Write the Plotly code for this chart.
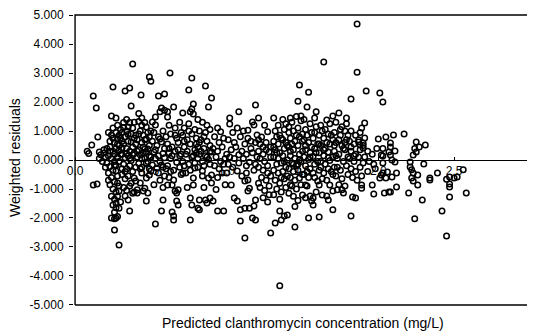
import plotly.graph_objects as go

# (predicted concentration mg/L, weighted residual)
seg_a = [
    (0.08, 0.30), (0.09, 0.22),
    (0.11, 0.52), (0.12, 2.21), (0.14, 1.79), (0.15, 0.79), (0.12, -0.86), (0.145, -0.83),
    (0.16, 0.28), (0.17, 0.18), (0.19, 0.24), (0.20, 0.10), (0.18, -0.05), (0.19, 0.35),
    (0.20, -0.25), (0.16, 0.05),
    (0.24, 1.52), (0.25, 2.52), (0.24, 0.86), (0.23, 0.45), (0.25, 0.30), (0.26, 0.60),
    (0.27, 0.95), (0.28, 0.72), (0.29, 0.50), (0.22, 0.15), (0.24, 0.05), (0.26, 0.20),
    (0.28, 0.10), (0.29, 0.32), (0.21, -0.10), (0.23, -0.22), (0.25, -0.35), (0.27, -0.18),
    (0.29, -0.05), (0.22, -0.45), (0.24, -0.60), (0.26, -0.75), (0.28, -0.55), (0.23, -0.85),
    (0.25, -1.00), (0.27, -1.10), (0.29, -0.90), (0.24, -1.25), (0.26, -1.35), (0.28, -1.25),
    (0.25, -1.55), (0.27, -1.65), (0.26, -1.80), (0.24, -2.00), (0.26, -2.03), (0.27, -2.00),
    (0.26, -2.41), (0.29, -2.93), (0.30, -1.45), (0.28, -1.95), (0.22, -0.70), (0.21, 0.40),
    (0.23, 0.65), (0.27, 0.40), (0.29, 0.85), (0.30, 1.05), (0.28, 1.20), (0.25, 1.10),
    (0.26, -0.17), (0.27, -0.38), (0.28, -0.79), (0.29, -1.07), (0.27, -1.48), (0.29, -1.66),
    (0.38, 3.31), (0.33, 2.38), (0.36, 2.48), (0.37, 1.86), (0.32, 1.29), (0.36, 1.29),
    (0.35, 1.14), (0.31, 0.95), (0.33, 0.80), (0.35, 0.65), (0.37, 0.90), (0.39, 0.75),
    (0.32, 0.55), (0.34, 0.40), (0.36, 0.30), (0.38, 0.45), (0.31, 0.20), (0.33, 0.08),
    (0.35, 0.15), (0.37, -0.02), (0.39, 0.22), (0.32, -0.15), (0.34, -0.30), (0.36, -0.20),
    (0.38, -0.40), (0.31, -0.50), (0.33, -0.65), (0.35, -0.55), (0.37, -0.80), (0.39, -0.62),
    (0.32, -0.95), (0.34, -1.05), (0.36, -0.90), (0.38, -1.15), (0.36, -1.76), (0.33, -1.24),
    (0.35, -1.38), (0.39, -1.10), (0.31, -0.30), (0.40, 0.55), (0.40, -0.25), (0.34, 1.00),
    (0.38, 1.10), (0.31, 0.65),
    (0.49, 2.86), (0.50, 2.72), (0.435, 2.24), (0.42, 1.33), (0.44, 1.45), (0.46, 1.29),
    (0.47, 1.14), (0.43, 1.00), (0.45, 0.85), (0.48, 0.95), (0.41, 0.70), (0.44, 0.60),
    (0.47, 0.72), (0.49, 0.50), (0.42, 0.35), (0.45, 0.25), (0.48, 0.38), (0.41, 0.10),
    (0.43, 0.18), (0.46, 0.05), (0.49, 0.15), (0.42, -0.12), (0.44, -0.25), (0.47, -0.10),
    (0.49, -0.30), (0.41, -1.14), (0.41, -1.03), (0.45, -1.07), (0.46, -0.97), (0.47, -1.41),
    (0.48, -1.14), (0.40, -0.72), (0.43, -0.79), (0.47, -0.62), (0.49, -0.52), (0.50, -0.38),
    (0.44, -0.45), (0.50, 1.00),
    (0.22, 0.95), (0.23, 0.30), (0.25, 0.75), (0.26, -0.05), (0.28, 0.55), (0.30, 0.20),
    (0.31, 0.42), (0.32, 1.12), (0.33, -0.40), (0.34, 0.22), (0.35, 0.88), (0.36, 0.05),
    (0.37, 0.62), (0.38, 0.18), (0.39, 1.30), (0.40, 0.85), (0.41, 0.30), (0.42, 0.90),
    (0.43, -0.30), (0.44, 1.20), (0.45, 0.45), (0.46, 0.70), (0.47, 0.28), (0.48, -0.05),
    (0.49, 0.80), (0.50, 0.10), (0.27, 1.45), (0.30, 0.75), (0.34, 1.40), (0.42, 1.60),
    (0.44, 0.05), (0.46, 0.38),
]

seg_b = [
    (0.55, 2.21), (0.59, 2.28), (0.57, 1.79), (0.59, 1.72), (0.56, 1.66), (0.61, 1.66),
    (0.61, 1.48), (0.53, 1.48), (0.51, 1.31), (0.53, 1.21), (0.52, 0.95), (0.55, 0.80),
    (0.58, 1.00), (0.51, 0.65), (0.54, 0.50), (0.57, 0.62), (0.59, 0.40), (0.52, 0.28),
    (0.55, 0.15), (0.58, 0.22), (0.53, 0.05), (0.56, -0.05), (0.59, 0.08), (0.54, -0.28),
    (0.55, -0.45), (0.57, -0.17), (0.51, -0.17), (0.53, -2.21), (0.57, -1.76), (0.58, -1.38),
    (0.56, -0.70), (0.59, -0.55), (0.52, -0.85), (0.58, -0.95), (0.60, -0.30),
    (0.626, 3.00), (0.65, 1.83), (0.71, 1.62), (0.62, 1.20), (0.66, 1.10), (0.69, 1.30),
    (0.63, 0.90), (0.67, 0.75), (0.70, 0.95), (0.61, 0.55), (0.64, 0.45), (0.68, 0.60),
    (0.62, 0.25), (0.66, 0.30), (0.69, 0.15), (0.63, 0.05), (0.67, -0.08), (0.61, -0.20),
    (0.65, -0.35), (0.69, -0.25), (0.62, -0.60), (0.70, -0.50), (0.65, -2.07), (0.65, -1.93),
    (0.64, -1.79), (0.68, -1.55), (0.67, -1.41), (0.66, -1.07), (0.68, -1.03), (0.65, -0.69),
    (0.64, -0.86), (0.61, -0.86), (0.71, -0.45), (0.73, -0.45), (0.67, -1.14),
    (0.77, 2.83), (0.75, 2.41), (0.78, 1.93), (0.77, 1.76), (0.76, 1.66), (0.78, 1.59),
    (0.72, 1.10), (0.75, 1.25), (0.79, 1.05), (0.71, 0.85), (0.74, 0.70), (0.77, 0.90),
    (0.80, 0.75), (0.72, 0.45), (0.76, 0.55), (0.79, 0.35), (0.73, 0.20), (0.77, 0.10),
    (0.80, 0.25), (0.71, -0.05), (0.75, -0.15), (0.79, -0.10), (0.76, -0.35), (0.78, -0.62),
    (0.76, -2.07), (0.77, -1.55), (0.76, -1.31), (0.81, -1.66), (0.82, -1.72), (0.82, -1.38),
    (0.78, -0.86), (0.79, -0.28), (0.74, -0.95),
    (0.86, 2.55), (0.90, 2.14), (0.88, 1.83), (0.81, 1.40), (0.84, 1.30), (0.87, 1.20),
    (0.82, 1.00), (0.86, 0.95), (0.89, 1.05), (0.83, 0.70), (0.87, 0.65), (0.81, 0.45),
    (0.85, 0.40), (0.89, 0.50), (0.82, 0.20), (0.86, 0.15), (0.90, 0.28), (0.84, -0.05),
    (0.88, 0.02), (0.81, -0.25), (0.85, -0.20), (0.89, -0.15), (0.84, -0.38), (0.84, -0.55),
    (0.88, -0.62), (0.90, -0.52), (0.90, -0.79), (0.86, -1.38), (0.87, -1.48), (0.89, -1.31),
    (0.91, -1.41), (0.85, -0.95),
    (0.94, 1.10), (0.96, 0.97), (0.92, 0.80), (0.95, 0.60), (0.98, 0.75), (0.91, 0.40),
    (0.94, 0.30), (0.97, 0.45), (1.00, 0.20), (0.93, 0.10), (0.96, -0.05), (0.99, 0.05),
    (0.92, -0.20), (0.95, -0.30), (0.98, -0.15), (0.94, -0.60), (0.97, -0.45), (0.94, -1.76),
    (0.98, -1.76), (0.99, -0.85), (0.93, -1.02),
    (0.53, 0.35), (0.56, 0.72), (0.58, -0.25), (0.60, 0.80), (0.62, 0.40), (0.64, 0.15),
    (0.66, 0.85), (0.68, 0.35), (0.70, 0.20), (0.72, 0.65), (0.74, 0.30), (0.75, 1.00),
    (0.78, 0.15), (0.80, 0.55), (0.82, 0.60), (0.83, 0.30), (0.85, 0.80), (0.87, 0.10),
    (0.89, 0.30), (0.63, -0.40), (0.72, -0.20), (0.81, 0.05),
]

seg_c = [
    (1.08, 1.66), (1.02, 1.45), (1.02, 1.24), (1.04, 0.95), (1.07, 1.10), (1.01, 0.70),
    (1.05, 0.60), (1.09, 0.80), (1.03, 0.35), (1.06, 0.45), (1.10, 0.30), (1.02, 0.10),
    (1.05, 0.05), (1.08, 0.18), (1.01, -0.15), (1.04, -0.25), (1.08, -0.10), (1.00, -0.45),
    (1.03, -0.86), (1.05, -1.31), (1.07, -1.41), (1.09, -2.10), (1.09, -1.72), (1.07, -0.38),
    (1.10, -0.55),
    (1.19, 1.90), (1.17, 1.31), (1.18, 1.21), (1.14, 1.03), (1.20, 0.86), (1.11, 1.00),
    (1.14, 0.75), (1.19, 0.60), (1.12, 0.55), (1.16, 0.40), (1.13, 0.20), (1.17, 0.25),
    (1.20, 0.10), (1.11, 0.05), (1.15, -0.08), (1.19, -0.15), (1.12, -0.72), (1.14, -0.69),
    (1.13, -0.45), (1.18, -0.35), (1.14, -1.07), (1.15, -0.97), (1.19, -1.38), (1.12, -1.66),
    (1.15, -1.66), (1.18, -1.59), (1.17, -2.00), (1.19, -2.07), (1.12, -2.69),
    (1.21, 1.45), (1.23, 0.79), (1.27, 0.97), (1.25, 1.20), (1.22, 0.55), (1.26, 0.60),
    (1.29, 0.45), (1.21, 0.30), (1.24, 0.20), (1.28, 0.28), (1.22, 0.05), (1.25, -0.05),
    (1.29, 0.10), (1.21, -0.25), (1.24, -0.35), (1.27, -0.20), (1.23, -0.60), (1.26, -0.70),
    (1.29, -0.55), (1.22, -0.95), (1.25, -1.05), (1.28, -0.90), (1.24, -1.30), (1.27, -1.45),
    (1.29, -2.52), (1.21, -0.80), (1.28, -1.20),
    (1.31, 1.45), (1.34, 1.20), (1.37, 1.40), (1.32, 1.00), (1.35, 0.85), (1.38, 1.05),
    (1.31, 0.65), (1.34, 0.55), (1.37, 0.70), (1.40, 0.50), (1.32, 0.35), (1.35, 0.25),
    (1.38, 0.40), (1.31, 0.10), (1.34, 0.05), (1.37, 0.15), (1.40, 0.00), (1.33, -0.15),
    (1.36, -0.10), (1.39, -0.25), (1.31, -0.35), (1.34, -0.45), (1.37, -0.40), (1.40, -0.55),
    (1.32, -0.70), (1.35, -0.80), (1.38, -0.65), (1.33, -1.00), (1.36, -1.10), (1.39, -0.95),
    (1.31, -1.20), (1.35, -1.35), (1.32, -2.17), (1.36, -2.07), (1.38, -1.93), (1.40, -1.90),
    (1.35, -1.76), (1.35, -4.34), (1.39, 1.25), (1.33, 0.80),
    (1.47, 2.03), (1.48, 2.59), (1.45, -2.31), (1.43, 1.30), (1.46, 1.50), (1.49, 1.35),
    (1.41, 1.15), (1.44, 1.00), (1.47, 1.10), (1.50, 0.90), (1.42, 0.75), (1.45, 0.65),
    (1.48, 0.80), (1.41, 0.45), (1.44, 0.35), (1.47, 0.50), (1.50, 0.30), (1.42, 0.15),
    (1.45, 0.05), (1.48, 0.20), (1.43, -0.10), (1.46, -0.20), (1.49, -0.05), (1.41, -0.30),
    (1.44, -0.40), (1.47, -0.35), (1.50, -0.50), (1.42, -0.60), (1.45, -0.70), (1.48, -0.62),
    (1.43, -0.90), (1.46, -1.00), (1.49, -0.85), (1.41, -1.15), (1.44, -1.25), (1.47, -1.40),
    (1.50, -1.21), (1.45, -1.60), (1.42, 1.45), (1.49, 1.52), (1.41, 0.95), (1.44, -0.15),
    (1.16, 0.65), (1.21, 0.70), (1.24, 0.45), (1.27, -0.45), (1.13, -0.20), (1.26, 0.35),
    (1.31, 0.45), (1.33, 0.25), (1.36, 0.75), (1.38, -0.05), (1.39, 0.60), (1.42, 0.30),
    (1.43, 0.55), (1.46, 0.85), (1.48, 0.00), (1.50, 0.65), (1.36, -0.60), (1.42, -0.85),
    (1.47, -0.15),
]

seg_d = [
    (1.54, 2.34), (1.53, 1.83), (1.59, 1.66), (1.54, -2.00), (1.51, 1.40), (1.55, 1.25),
    (1.58, 1.45), (1.52, 1.05), (1.56, 0.95), (1.59, 1.15), (1.51, 0.70), (1.54, 0.60),
    (1.57, 0.75), (1.60, 0.55), (1.52, 0.35), (1.55, 0.25), (1.58, 0.40), (1.51, 0.10),
    (1.54, 0.02), (1.57, 0.12), (1.60, -0.05), (1.52, -0.20), (1.55, -0.30), (1.58, -0.15),
    (1.51, -0.50), (1.54, -0.60), (1.57, -0.45), (1.60, -0.72), (1.53, -0.90), (1.52, -0.86),
    (1.55, -1.24), (1.56, -1.41), (1.57, -1.31), (1.59, -1.10), (1.57, -1.55), (1.52, -1.30),
    (1.64, 3.38), (1.66, 1.38), (1.70, 1.52), (1.61, -1.97), (1.70, -1.72), (1.62, 1.20),
    (1.65, 1.05), (1.68, 1.25), (1.61, 0.85), (1.64, 0.75), (1.67, 0.90), (1.70, 0.70),
    (1.62, 0.50), (1.65, 0.40), (1.68, 0.55), (1.61, 0.25), (1.64, 0.15), (1.67, 0.28),
    (1.70, 0.10), (1.62, -0.05), (1.65, -0.15), (1.68, -0.02), (1.61, -0.35), (1.64, -0.45),
    (1.67, -0.30), (1.70, -0.50), (1.61, -0.86), (1.63, -1.21), (1.66, -1.24), (1.67, -1.38),
    (1.68, -0.86), (1.70, -1.07), (1.63, -0.65), (1.66, -0.70),
    (1.74, 1.62), (1.79, 1.45), (1.72, 1.30), (1.76, 1.15), (1.79, 1.25), (1.71, 0.95),
    (1.75, 0.85), (1.78, 1.00), (1.72, 0.60), (1.76, 0.50), (1.79, 0.70), (1.71, 0.30),
    (1.74, 0.20), (1.78, 0.35), (1.73, 0.05), (1.77, -0.05), (1.80, 0.10), (1.71, -0.25),
    (1.75, -0.35), (1.79, -0.20), (1.72, -0.55), (1.76, -0.65), (1.80, -0.50), (1.73, -1.03),
    (1.76, -1.03), (1.77, -1.14), (1.74, -0.85), (1.78, -0.90),
    (1.86, 4.69), (1.86, 3.03), (1.82, 2.10), (1.89, 1.10), (1.82, 1.00), (1.85, 0.85),
    (1.88, 0.95), (1.81, 0.65), (1.84, 0.55), (1.87, 0.70), (1.90, 0.50), (1.82, 0.30),
    (1.85, 0.20), (1.88, 0.35), (1.81, 0.05), (1.84, -0.05), (1.87, 0.10), (1.90, -0.10),
    (1.82, -0.30), (1.85, -0.40), (1.88, -0.25), (1.83, -0.60), (1.86, -0.70), (1.89, -0.55),
    (1.85, -1.31), (1.83, -1.28), (1.82, -1.93), (1.89, -0.97), (1.89, -0.86),
    (1.92, 2.38), (1.91, 1.28), (1.90, 0.59), (1.90, 0.41), (1.88, 0.52), (1.87, 0.62),
    (1.91, 0.76), (1.91, 0.10), (1.93, 0.30), (1.96, 0.20), (1.99, 0.40), (1.94, -0.05),
    (1.97, -0.15), (1.93, -0.40), (1.96, -0.86), (1.97, -1.17), (1.98, -0.30),
    (1.52, 0.50), (1.53, 0.85), (1.55, 0.10), (1.56, 0.45), (1.58, 0.95), (1.59, 0.25),
    (1.61, 0.55), (1.63, 1.00), (1.64, 0.35), (1.66, 0.60), (1.67, 0.08), (1.69, 0.85),
    (1.71, 0.50), (1.72, 0.15), (1.74, 0.70), (1.75, 1.05), (1.77, 0.40), (1.78, 0.60),
    (1.80, 0.85), (1.82, 0.45), (1.84, 0.15), (1.53, -0.40), (1.58, -0.60), (1.62, -0.25),
    (1.69, -0.40), (1.73, -0.25),
]

seg_e = [
    (2.01, 2.31), (2.03, 2.00), (2.00, 0.72), (2.05, 0.79), (2.10, 0.86), (2.08, 0.59),
    (2.08, 0.45), (2.11, 0.31), (2.08, 0.17), (2.03, 0.14), (2.02, -0.52), (2.01, -0.62),
    (2.06, -0.41), (2.09, -0.59), (2.08, -1.10), (2.04, -1.14), (2.03, 0.40),
    (2.02, 0.17), (2.07, 0.28), (2.09, 0.00), (2.03, -0.10), (2.11, -0.07), (2.03, -0.45),
    (2.05, -0.62), (2.12, -0.45), (2.12, -0.93), (2.07, -1.10),
    (2.17, 0.90), (2.25, 0.62), (2.31, 0.52), (2.27, 0.45), (2.23, 0.17), (2.25, 0.28),
    (2.21, -0.24), (2.21, -0.07), (2.23, -0.72), (2.23, -0.45), (2.26, -0.86), (2.30, -0.14),
    (2.20, -1.14), (2.29, -1.38), (2.24, -2.03), (2.26, -0.52), (2.22, -0.34), (2.22, -0.62),
    (2.24, 0.40),
    (2.34, -0.62), (2.34, -0.69), (2.39, -0.45), (2.45, -0.66), (2.47, -0.59), (2.50, -0.62),
    (2.52, -0.59), (2.47, -0.93), (2.47, -0.83), (2.47, -1.28), (2.42, -1.76), (2.45, -2.62),
    (2.58, -1.14), (2.56, -0.34),
]

points = seg_a + seg_b + seg_c + seg_d + seg_e
conc = [p[0] for p in points]
resid = [p[1] for p in points]

frame_x = [0, 3]
frame_y = [-5, 5]
# axes padded by about one pixel so the frame sits just inside the plotting area
x_range = [-0.007, 3.007]
y_range = [-5.035, 5.035]
y_ticks = [5, 4, 3, 2, 1, 0, -1, -2, -3, -4, -5]
y_labels = ["5.000", "4.000", "3.000", "2.000", "1.000", "0.000",
            "-1.000", "-2.000", "-3.000", "-4.000", "-5.000"]
x_ticks = [0, 0.5, 1.0, 1.5, 2.0, 2.5, 3.0]
x_labels = ["0.0", "0.5", "1.0", "1.5", "2.0", "2.5", "3.0"]

font_family = "Liberation Sans, Arial, Helvetica, sans-serif"

fig = go.Figure()
x0, x1 = frame_x
y0, y1 = frame_y
fig.add_trace(go.Scatter(
    x=[x0, x1, x1, x0, x0], y=[y0, y0, y1, y1, y0], mode="lines",
    line=dict(color="black", width=1.4), hoverinfo="skip", cliponaxis=False,
))
fig.add_trace(go.Scatter(
    x=conc, y=resid, mode="markers",
    marker=dict(symbol="circle-open", size=5.5, color="black",
                line=dict(width=1.5, color="black")),
    hoverinfo="skip",
))
# invisible companion trace so the mid-plot tick-label axis (x2) is drawn
fig.add_trace(go.Scatter(
    x=conc[:1], y=resid[:1], mode="markers", xaxis="x2", yaxis="y",
    marker=dict(opacity=0), hoverinfo="skip", showlegend=False,
))

# The page body has an 8 px margin, so the figure is shrunk and shifted accordingly
fig.update_layout(
    width=527, height=324,
    margin=dict(l=66, r=4, t=6, b=26, autoexpand=False),
    plot_bgcolor="white", paper_bgcolor="white",
    showlegend=False,
    font=dict(family=font_family, color="black", size=12),
    annotations=[
        dict(text="Weighted residuals", xref="paper", yref="paper",
             x=(15 - 74) / 457, y=(306 - 158) / 292, xanchor="center", yanchor="middle",
             textangle=-90, showarrow=False, font=dict(size=14)),
        dict(text="Predicted clanthromycin concentration (mg/L)", xref="paper", yref="paper",
             x=0.5, y=-(323 - 306) / 292, xanchor="center", yanchor="middle",
             showarrow=False, font=dict(size=14)),
    ],
    xaxis=dict(
        range=x_range, showticklabels=False, ticks="", automargin=False,
        showgrid=False, zeroline=False, showline=False,
    ),
    xaxis2=dict(
        range=x_range, overlaying="x", anchor="free", position=0.5, automargin=False,
        tickvals=x_ticks, ticktext=x_labels,
        showgrid=False, zeroline=False, showline=False,
        ticks="inside", ticklen=3, tickcolor="black", tickwidth=1,
        tickfont=dict(size=12), ticklabelstandoff=2,
    ),
    yaxis=dict(
        range=y_range, tickvals=y_ticks, ticktext=y_labels, automargin=False,
        showgrid=False, zeroline=True, zerolinecolor="black", zerolinewidth=1.3,
        showline=False, ticks="outside", ticklen=4, tickcolor="black",
        tickfont=dict(size=12), ticklabelstandoff=3,
    ),
)

fig.write_html("out.html")
